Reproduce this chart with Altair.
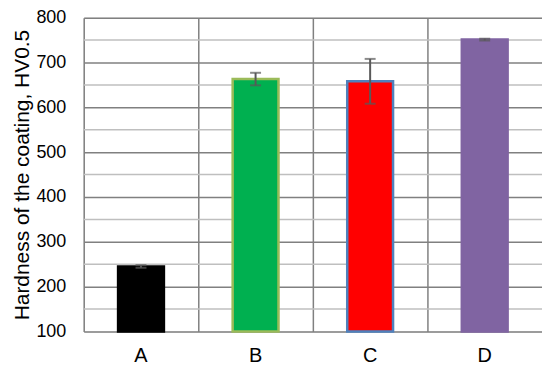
import altair as alt
import pandas as pd

categories = ["A", "B", "C", "D"]
hardness = [245, 663, 658, 751]
errors = [3, 14, 50, 2]
fills = ["#000000", "#00B050", "#FF0000", "#8064A2"]
outlines = ["#000000", "#9BBB59", "#4F81BD", "#8064A2"]
minor_ticks = [150, 250, 350, 450, 550, 650, 750]
major_ticks = [100, 200, 300, 400, 500, 600, 700, 800]

df = pd.DataFrame({
    "cat": categories,
    "val": hardness,
    "lo": [v - e for v, e in zip(hardness, errors)],
    "hi": [v + e for v, e in zip(hardness, errors)],
    "fill": fills,
    "outline": outlines,
})
minor = pd.DataFrame({"m": minor_ticks})

xscale = alt.Scale(domain=categories, paddingInner=0, paddingOuter=0)
yscale = alt.Scale(domain=[100, 800], nice=False)

x_enc = alt.X("cat:N", scale=xscale, title=None,
              axis=alt.Axis(labelAngle=0, ticks=False, domain=False, grid=True,
                            bandPosition=0, gridColor="#808080", gridWidth=1.5,
                            labelFont="Liberation Sans", labelFontSize=20,
                            labelColor="#000000", labelPadding=14))
y_enc = alt.Y("val:Q", scale=yscale, title="Hardness of the coating, HV0.5",
              axis=alt.Axis(values=major_ticks,
                            ticks=False, domain=False, grid=True,
                            gridColor="#808080", gridWidth=1.5,
                            labelFont="Liberation Sans", labelFontSize=18,
                            labelColor="#000000", labelPadding=18,
                            titleFont="Liberation Sans", titleFontSize=21,
                            titleFontWeight="normal", titleColor="#000000",
                            titlePadding=3))

minor_rules = alt.Chart(minor).mark_rule(color="#BFBFBF", strokeWidth=1.5).encode(
    y=alt.Y("m:Q", scale=yscale)
)

bars = alt.Chart(df).mark_bar(size=46, strokeWidth=2.5).encode(
    x=x_enc,
    y=y_enc,
    y2=alt.datum(100),
    fill=alt.Fill("fill:N", scale=None),
    stroke=alt.Stroke("outline:N", scale=None),
)

err_rule = alt.Chart(df).mark_rule(color="#595959", strokeWidth=2).encode(
    x=alt.X("cat:N", scale=xscale),
    y=alt.Y("lo:Q", scale=yscale),
    y2="hi:Q",
)
cap_lo = alt.Chart(df).mark_tick(color="#595959", thickness=2, size=11, orient="horizontal").encode(
    x=alt.X("cat:N", scale=xscale),
    y=alt.Y("lo:Q", scale=yscale),
)
cap_hi = alt.Chart(df).mark_tick(color="#595959", thickness=2, size=11, orient="horizontal").encode(
    x=alt.X("cat:N", scale=xscale),
    y=alt.Y("hi:Q", scale=yscale),
)

chart = alt.layer(minor_rules, bars, err_rule, cap_lo, cap_hi).properties(
    width=460,
    height=315,
    autosize=alt.AutoSizeParams(type="none"),
    padding={"left": 76, "top": 9, "right": 0, "bottom": 40},
).configure_view(
    stroke="#808080", strokeWidth=2
).configure(background="#ffffff")

chart.save("out.html", embed_options={"renderer": "svg", "actions": False})
